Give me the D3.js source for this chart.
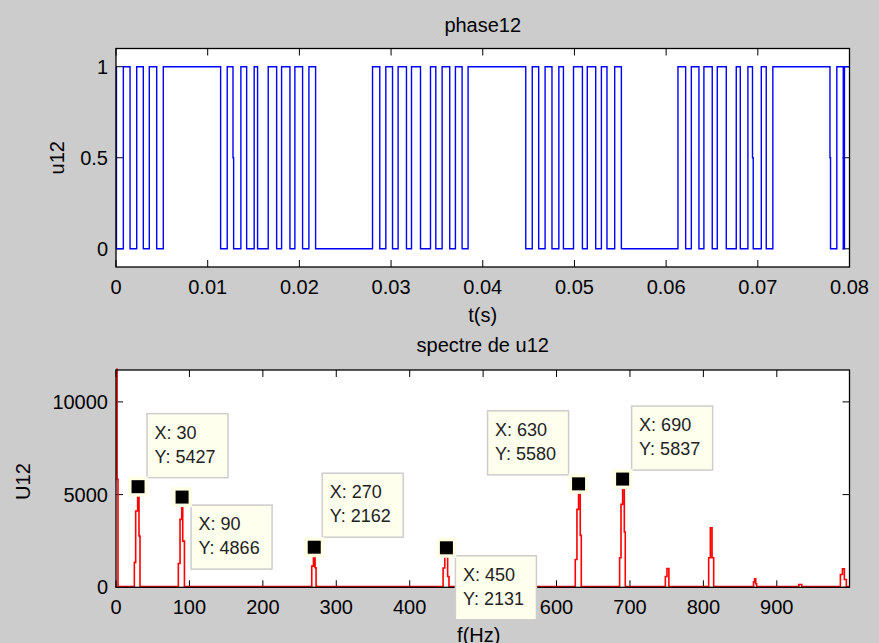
<!DOCTYPE html>
<html>
<head>
<meta charset="utf-8">
<script src="https://cdn.jsdelivr.net/npm/d3@7"></script>
<style>
  body { margin: 0; background: #cccccc; }
  svg { display: block; }
  text { font-family: "Liberation Sans", Arial, sans-serif; fill: #000; }
</style>
</head>
<body>
<div id="chart"></div>
<script>
// phase12 : switching instants (s) and the level held after each one
var u12Times = [0, 0.00005, 0.00080, 0.00153, 0.00226, 0.00298, 0.00363, 0.00444, 0.00516,
  0.01141, 0.01213, 0.01276, 0.01283, 0.01362, 0.01425, 0.01507, 0.01544, 0.01660, 0.01752,
  0.01806, 0.01897, 0.01951, 0.02035, 0.02104, 0.02177,
  0.02798, 0.02877, 0.02943, 0.03016, 0.03077, 0.03168, 0.03223, 0.03321, 0.03430, 0.03488,
  0.03557, 0.03640, 0.03702, 0.03775, 0.03840,
  0.04469, 0.04540, 0.04610, 0.04680, 0.04755, 0.04830, 0.04880, 0.04990, 0.05087, 0.05140,
  0.05232, 0.05294, 0.05355, 0.05439, 0.05512,
  0.06129, 0.06213, 0.06275, 0.06358, 0.06412, 0.06503, 0.06558, 0.06656, 0.06765, 0.06809,
  0.06892, 0.06942, 0.06950, 0.07038, 0.07092, 0.07164,
  0.07787, 0.07793, 0.07862, 0.07932, 0.07945, 0.08]
var u12Levels = [1, 0, 1, 0, 1, 0, 1, 0, 1,
  0, 1, 0.5, 0, 1, 0, 1, 0, 1, 0,
  1, 0, 1, 0, 1, 0,
  1, 0, 1, 0, 1, 0, 1, 0, 1, 0,
  1, 0, 1, 0, 1,
  0, 1, 0, 1, 0, 1, 0, 1, 0, 1,
  0, 1, 0, 1, 0,
  1, 0, 1, 0, 1, 0, 1, 0, 1, 0,
  1, 0.5, 0, 1, 0, 1,
  0.5, 0, 1, 0, 1, 1]

// spectre de u12 : corner points of the spectrum (Hz, amplitude)
var specFreq = [0, 1.5, 2.7,
  25, 26.8, 29.5, 31.3, 32.7,
  84.9, 87.2, 89.5, 90.9, 93.2,
  266.6, 268.9, 271.1, 272.5,
  445.5, 447.8, 449.5, 451.7, 453.5,
  625.5, 627.8, 630, 632.3, 633.7,
  685.9, 687.8, 690, 692.3, 693.6,
  748.2, 750.4, 753,
  807.2, 809.5, 811.8, 814,
  868.3, 869.8, 871.3, 872.5,
  930, 934,
  986.6, 989.4, 992, 994.7, 999]
var specAmp = [11720, 5780, 0,
  1300, 4070, 5427, 2720, 0,
  1240, 3620, 4866, 2450, 0,
  1100, 2162, 1010, 0,
  1000, 1600, 2131, 540, 0,
  1460, 4160, 5580, 2760, 0,
  1550, 4430, 5837, 2940, 0,
  540, 970, 0,
  1550, 3170, 1550, 0,
  250, 415, 150, 0,
  110, 0,
  650, 950, 380, 0, 0]

// data tips
var tipX = [30, 90, 270, 450, 630, 690]
var tipY = [5427, 4866, 2162, 2131, 5580, 5837]
// where each tip box sits relative to its marker
var tipPlace = [[9, -73], [9, 8], [8, -74], [9, 8], [-91, -73], [9, -73]]

var W = 879, H = 643
var left = 116, right = 849.5

var svg = d3.select("#chart").append("svg")
  .attr("width", W).attr("height", H)

function drawAxes(g, x, y, top, bottom, xTicks, xFmt, yTicks, yFmt) {
  g.append("rect")
    .attr("x", left).attr("y", top)
    .attr("width", right - left).attr("height", bottom - top)
    .attr("fill", "white")

  var tl = 7
  xTicks.forEach(function(t) {
    g.append("line").attr("x1", x(t)).attr("x2", x(t))
      .attr("y1", bottom).attr("y2", bottom - tl).attr("stroke", "#000")
    g.append("line").attr("x1", x(t)).attr("x2", x(t))
      .attr("y1", top).attr("y2", top + tl).attr("stroke", "#000")
    g.append("text").attr("x", x(t)).attr("y", bottom + 27)
      .attr("text-anchor", "middle").style("font-size", "20px")
      .text(xFmt(t))
  })
  yTicks.forEach(function(t) {
    g.append("line").attr("x1", left).attr("x2", left + tl)
      .attr("y1", y(t)).attr("y2", y(t)).attr("stroke", "#000")
    g.append("line").attr("x1", right).attr("x2", right - tl)
      .attr("y1", y(t)).attr("y2", y(t)).attr("stroke", "#000")
    g.append("text").attr("x", left - 8).attr("y", y(t) + 7)
      .attr("text-anchor", "end").style("font-size", "20px")
      .text(yFmt(t))
  })
}

function drawBox(g, top, bottom) {
  g.append("rect")
    .attr("x", left).attr("y", top)
    .attr("width", right - left).attr("height", bottom - top)
    .attr("fill", "none").attr("stroke", "#000").attr("stroke-width", 1.3)
}

// ---------- top : phase12 ----------
var top1 = 48.5, bot1 = 267
var x1 = d3.scaleLinear().domain([0, 0.08]).range([left, right])
var y1 = d3.scaleLinear().domain([-0.1, 1.1]).range([bot1, top1])
var g1 = svg.append("g")

drawAxes(g1, x1, y1, top1, bot1,
  d3.range(0, 0.0801, 0.01), function(d) { return d < 1e-9 ? "0" : d3.format(".2f")(d) },
  [0, 0.5, 1], function(d) { return String(d) })

var wave = u12Times.map(function(t, i) { return [t, u12Levels[i]] })
g1.append("path")
  .datum(wave)
  .attr("fill", "none")
  .attr("stroke", "#0000ff")
  .attr("stroke-width", 1.4)
  .attr("d", d3.line().curve(d3.curveStepAfter)
    .x(function(d) { return x1(d[0]) })
    .y(function(d) { return y1(d[1]) }))

drawBox(g1, top1, bot1)

g1.append("text").attr("x", (left + right) / 2).attr("y", top1 - 17)
  .attr("text-anchor", "middle").style("font-size", "20px").text("phase12")
g1.append("text").attr("x", (left + right) / 2).attr("y", bot1 + 55)
  .attr("text-anchor", "middle").style("font-size", "20px").text("t(s)")
g1.append("text").attr("transform", "translate(64," + y1(0.5) + ") rotate(-90)")
  .attr("text-anchor", "middle").style("font-size", "20px").text("u12")

// ---------- bottom : spectre de u12 ----------
var top2 = 370, bot2 = 587.3
var x2 = d3.scaleLinear().domain([0, 999]).range([left, right])
var y2 = d3.scaleLinear().domain([0, 11720]).range([bot2, top2])
var g2 = svg.append("g")

drawAxes(g2, x2, y2, top2, bot2,
  d3.range(0, 901, 100), function(d) { return String(d) },
  [0, 5000, 10000], function(d) { return String(d) })

var spec = specFreq.map(function(f, i) { return [f, specAmp[i]] })
g2.append("path")
  .datum(spec)
  .attr("fill", "none")
  .attr("stroke", "#ff0000")
  .attr("stroke-width", 1.6)
  .attr("d", d3.line().curve(d3.curveStepAfter)
    .x(function(d) { return x2(d[0]) })
    .y(function(d) { return y2(d[1]) - 0.8 }))

drawBox(g2, top2, bot2)

g2.append("text").attr("x", (left + right) / 2).attr("y", top2 - 18)
  .attr("text-anchor", "middle").style("font-size", "20px").text("spectre de u12")
g2.append("text").attr("x", (left + right) / 2 - 4).attr("y", bot2 + 55)
  .attr("text-anchor", "middle").style("font-size", "20px").text("f(Hz)")
g2.append("text").attr("transform", "translate(30," + (y2(5000) - 13) + ") rotate(-90)")
  .attr("text-anchor", "middle").style("font-size", "20px").text("U12")

// data tips
tipX.forEach(function(f, i) {
  var mx = x2(f), my = y2(tipY[i])
  var bx = mx + tipPlace[i][0], by = my + tipPlace[i][1]
  var tip = g2.append("g")
  tip.append("rect").attr("x", bx).attr("y", by)
    .attr("width", 81).attr("height", 64)
    .attr("fill", "#ffffee").attr("stroke", "#cdcdcd").attr("stroke-width", 1.5)
  tip.append("text").attr("x", bx + 7.5).attr("y", by + 25)
    .style("font-size", "18px").style("fill", "#222").text("X: " + f)
  tip.append("text").attr("x", bx + 7.5).attr("y", by + 49)
    .style("font-size", "18px").style("fill", "#222").text("Y: " + tipY[i])
  tip.append("rect").attr("x", mx - 10).attr("y", my - 10)
    .attr("width", 20).attr("height", 20).attr("fill", "#ffffe6")
  tip.append("rect").attr("x", mx - 6.5).attr("y", my - 6.5)
    .attr("width", 13).attr("height", 13).attr("fill", "#000")
})
</script>
</body>
</html>
